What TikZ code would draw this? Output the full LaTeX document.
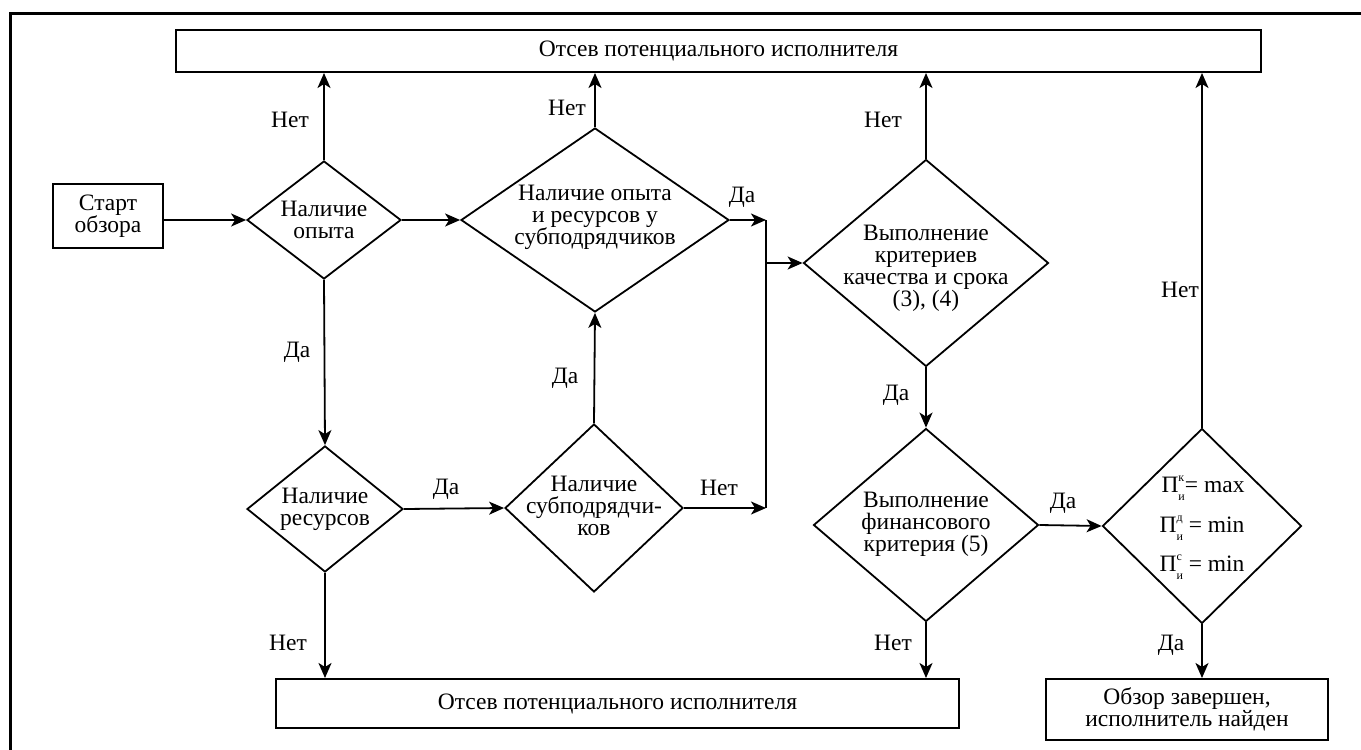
\documentclass[tikz,border=0pt]{standalone}
\usepackage{fontspec}
\setmainfont{Liberation Serif}
\usetikzlibrary{shapes.geometric,arrows.meta}
\newcommand\PIdx[2]{П\makebox[0pt][l]{\raisebox{0.5em}{\fontsize{12}{12}\selectfont #1}}\raisebox{-0.32em}{\fontsize{12}{12}\selectfont #2}}
\begin{document}
\begin{tikzpicture}[x=1pt,y=-1pt,
  every node/.style={font=\fontsize{23.5}{22}\selectfont},
  box/.style={draw, rectangle, line width=2pt, inner sep=0pt},
  dia/.style={draw, diamond, line width=1.8pt, inner sep=0pt},
  txt/.style={align=center, inner sep=0pt},
  lbl/.style={inner sep=0pt},
  arr/.style={-{Stealth[length=15pt,width=13pt,inset=4pt]}, line width=1.8pt},
  ln/.style={line width=1.8pt}]
\useasboundingbox (0,0) rectangle (1361,750);
% frame (cropped at right and bottom)
\coordinate (fbl) at (10,752);
\coordinate (ftl) at (10,13);
\coordinate (ftr) at (1363,13);
\draw[line width=3pt] (fbl) -- (ftl) -- (ftr);

% boxes
\node[box, minimum width=1085pt, minimum height=42pt] (top) at (718.5,51) {Отсев потенциального исполнителя};
\node[box, minimum width=683pt, minimum height=49pt] (bot) at (617.5,703.5) {Отсев потенциального исполнителя};
\node[box, minimum width=282pt, minimum height=61pt, align=center] (fin) at (1187,709.5) {Обзор завершен,\\исполнитель найден};
\node[box, minimum width=110pt, minimum height=64pt, align=center] (st) at (108,216) {Старт\\обзора};

% diamonds
\node[dia, minimum width=154pt, minimum height=118pt] (d1) at (324,220) {};
\node[txt] (d1t) at (324,220) {Наличие\\опыта};
\node[dia, minimum width=268pt, minimum height=184pt] (d2) at (595,220) {};
\node[txt] (d2t) at (595,217) {Наличие опыта\\и ресурсов у\\субподрядчиков};
\node[dia, minimum width=245pt, minimum height=207pt] (d3) at (926,263) {};
\node[txt] (d3t) at (926,268) {Выполнение\\критериев\\качества и срока\\(3), (4)};
\node[dia, minimum width=156pt, minimum height=126pt] (d4) at (325,509) {};
\node[txt] (d4t) at (325,509) {Наличие\\ресурсов};
\node[dia, minimum width=178pt, minimum height=168pt] (d5) at (594,508) {};
\node[txt] (d5t) at (594,506) {Наличие\\субподрядчи-\\ков};
\node[dia, minimum width=225pt, minimum height=193pt] (d6) at (926,525) {};
\node[txt] (d6t) at (926,524) {Выполнение\\финансового\\критерия (5)};
\node[dia, minimum width=199pt, minimum height=195pt] (d7) at (1202,526) {};
\node[txt] (d7a) at (1203,488) {\PIdx{к}{и}= max};
\node[txt] (d7b) at (1202,528) {\PIdx{д}{и} = min};
\node[txt] (d7c) at (1202,567) {\PIdx{с}{и} = min};

% junction coordinates
\coordinate (j1) at (766,220);
\coordinate (j2) at (766,263);
\coordinate (j3) at (766,508);

% connectors
\draw[arr] (st.east |- d1.west) -- (d1.west);
\draw[arr] (d1.east) -- (d2.west);
\draw[arr] (d1.north) -- (d1.north |- top.south);
\draw[arr] (d2.north) -- (d2.north |- top.south);
\draw[arr] (d3.north) -- (d3.north |- top.south);
\draw[arr] (d7.north) -- (d7.north |- top.south);
\draw[arr] (d1.south) -- (d4.north);
\draw[arr] (d4.east) -- (d5.west);
\draw[arr] (d5.north) -- (d2.south);
\draw[arr] (d2.east) -- (j1);
\draw[arr] (d5.east) -- (j3);
\draw[ln] (j1) -- (j3);
\draw[arr] (j2) -- (d3.west);
\draw[arr] (d3.south) -- (d6.north);
\draw[arr] (d6.east) -- (d7.west);
\draw[arr] (d4.south) -- (d4.south |- bot.north);
\draw[arr] (d6.south) -- (d6.south |- bot.north);
\draw[arr] (d7.south) -- (d7.south |- fin.north);

% labels
\node[lbl] (l1) at (290,120) {Нет};
\node[lbl] (l2) at (297,352) {Да};
\node[lbl] (l3) at (567,108) {Нет};
\node[lbl] (l4) at (742,197) {Да};
\node[lbl] (l5) at (883,120) {Нет};
\node[lbl] (l6) at (896,395) {Да};
\node[lbl] (l7) at (446,489) {Да};
\node[lbl] (l8) at (565,378) {Да};
\node[lbl] (l9) at (719,488) {Нет};
\node[lbl] (l10) at (288,643) {Нет};
\node[lbl] (l11) at (893,643) {Нет};
\node[lbl] (l12) at (1063,503) {Да};
\node[lbl] (l13) at (1180,290) {Нет};
\node[lbl] (l14) at (1171,645) {Да};
\end{tikzpicture}
\end{document}
